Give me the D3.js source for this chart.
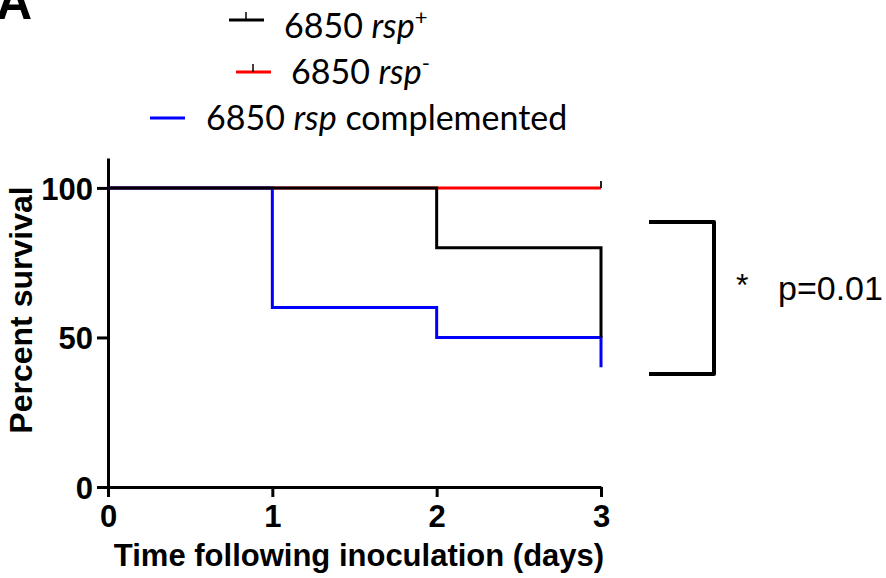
<!DOCTYPE html>
<html>
<head>
<meta charset="utf-8">
<script src="https://cdn.jsdelivr.net/npm/d3@7"></script>
<style>
  body { margin: 0; background: #fff; }
  svg { display: block; }
</style>
</head>
<body>
<div id="chart"></div>
<script>
// survival data
var days = [0, 1, 2, 3];
var rspPlus = [100, 100, 80, 50];
var rspMinus = [100, 100, 100, 100];
var rspComplemented = [100, 60, 50, 40];
var xTicks = [0, 1, 2, 3];
var yTicks = [0, 50, 100];
var censorRspMinus = [{ day: 3, value: 100 }];

var W = 886, H = 578;
var svg = d3.select("#chart").append("svg").attr("width", W).attr("height", H);

var x = d3.scaleLinear().domain([0, 3]).range([108, 601]);
var y = d3.scaleLinear().domain([0, 110]).range([487, 158]);

var axisFont = "'Liberation Sans', Arial, sans-serif";

// panel letter (cut at the top, as in the figure)
svg.append("text").attr("x", -4).attr("y", 19)
    .style("font", "bold 50px " + axisFont).text("A");

// axes
var yAxis = svg.append("g").attr("transform", "translate(" + x(0) + ",0)")
    .call(d3.axisLeft(y).tickValues(yTicks).tickFormat(d3.format("d"))
        .tickSize(11).tickSizeOuter(0).tickPadding(4));
var xAxis = svg.append("g").attr("transform", "translate(0," + y(0) + ")")
    .call(d3.axisBottom(x).tickValues(xTicks).tickFormat(d3.format("d"))
        .tickSize(10).tickSizeOuter(0).tickPadding(8));

[yAxis, xAxis].forEach(function (g) {
    g.select(".domain").attr("stroke", "#000").attr("stroke-width", 3);
    g.selectAll(".tick line").attr("stroke", "#000").attr("stroke-width", 3);
    g.selectAll(".tick text").attr("fill", "#000")
        .style("font", "bold 31px " + axisFont);
});
yAxis.selectAll(".tick text").attr("dy", "0.36em");
xAxis.selectAll(".tick text").attr("dy", "0.72em");

svg.append("text")
    .attr("transform", "translate(32,310) rotate(-90)")
    .attr("text-anchor", "middle")
    .style("font", "bold 32px " + axisFont)
    .text("Percent survival");

svg.append("text")
    .attr("x", 359).attr("y", 566)
    .attr("text-anchor", "middle")
    .style("font", "bold 31px " + axisFont)
    .text("Time following inoculation (days)");

// survival curves
var line = d3.line()
    .x(function (d) { return x(d[0]); })
    .y(function (d) { return y(d[1]); })
    .curve(d3.curveStepAfter);

function pairs(vals) { return days.map(function (t, i) { return [t, vals[i]]; }); }

var series = [
    { name: "minus", values: rspMinus, color: "#ff0000" },
    { name: "comp", values: rspComplemented, color: "#0000ff" },
    { name: "plus", values: rspPlus, color: "#000000" }
];

svg.append("g").selectAll("path").data(series).enter().append("path")
    .attr("d", function (s) { return line(pairs(s.values)); })
    .attr("fill", "none")
    .attr("stroke", function (s) { return s.color; })
    .attr("stroke-width", 3);

svg.append("g").selectAll("line").data(censorRspMinus).enter().append("line")
    .attr("x1", function (d) { return x(d.day); })
    .attr("x2", function (d) { return x(d.day); })
    .attr("y1", function (d) { return y(d.value) - 7; })
    .attr("y2", function (d) { return y(d.value); })
    .attr("stroke", "#222").attr("stroke-width", 2);

// significance bracket
svg.append("path")
    .attr("d", "M649,222H714V374H649")
    .attr("fill", "none").attr("stroke", "#000")
    .attr("stroke-width", 4).attr("stroke-linejoin", "round");

svg.append("text").attr("x", 736).attr("y", 296)
    .style("font", "32px " + axisFont).text("*");
svg.append("text").attr("x", 778).attr("y", 300)
    .style("font", "34px " + axisFont).text("p=0.01");

// legend
var legendFont = "Lato, 'Open Sans', sans-serif";
var legend = [
    { label: "6850 ", em: "rsp", sup: "+", color: "#000", lx: 229, ly: 20, tx: 284, ty: 38, tick: true },
    { label: "6850 ", em: "rsp", sup: "-", color: "#ff0000", lx: 236, ly: 72, tx: 291, ty: 84, tick: true },
    { label: "6850 ", em: "rsp", sup: null, after: " complemented", color: "#0000ff", lx: 150, ly: 118, tx: 206, ty: 130, tick: false }
];

var lg = svg.append("g").selectAll("g").data(legend).enter().append("g");
lg.append("line")
    .attr("x1", function (d) { return d.lx; })
    .attr("x2", function (d) { return d.lx + 35; })
    .attr("y1", function (d) { return d.ly; })
    .attr("y2", function (d) { return d.ly; })
    .attr("stroke", function (d) { return d.color; })
    .attr("stroke-width", 3);
lg.filter(function (d) { return d.tick; }).append("line")
    .attr("x1", function (d) { return d.lx + 17; })
    .attr("x2", function (d) { return d.lx + 17; })
    .attr("y1", function (d) { return d.ly - 8; })
    .attr("y2", function (d) { return d.ly; })
    .attr("stroke", "#000").attr("stroke-width", 1.5);

var lt = lg.append("text")
    .attr("x", function (d) { return d.tx; })
    .attr("y", function (d) { return d.ty; })
    .style("font", "34px " + legendFont);
lt.append("tspan").text(function (d) { return d.label; });
lt.append("tspan").style("font-style", "italic").text(function (d) { return d.em; });
lt.filter(function (d) { return d.sup; }).append("tspan")
    .attr("dy", -13).style("font-size", "22px")
    .text(function (d) { return d.sup; });
lt.filter(function (d) { return d.after; }).append("tspan")
    .text(function (d) { return d.after; });
</script>
</body>
</html>
